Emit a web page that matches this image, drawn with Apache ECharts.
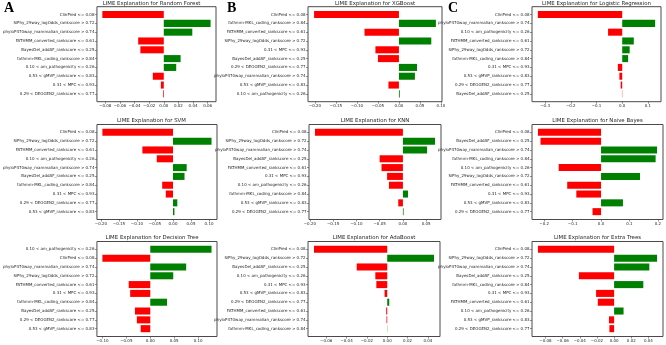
<!DOCTYPE html>
<html lang="en">
<head>
    <meta charset="UTF-8">
    <script src="https://cdn.jsdelivr.net/npm/echarts/dist/echarts.min.js"></script>
    <title>LIME</title>
    <style>
        body { margin: 0; background: #fff; }
    </style>
</head>
<body>
    <div id="chart" style="width: 666px;height:345px;"></div>
    <script>
        // feature labels (top to bottom) and LIME weights for each model
        var rfLabels = ['ClinPred <= 0.08', 'SiPhy_29way_logOdds_rankscore > 0.72', 'phyloP470way_mammalian_rankscore > 0.74', 'FATHMM_converted_rankscore <= 0.61', 'BayesDel_addAF_rankscore <= 0.25', 'fathmm-MKL_coding_rankscore > 0.84', '0.10 < am_pathogenicity <= 0.26', '0.53 < gMVP_rankscore <= 0.83', '0.31 < MPC <= 0.93', '0.29 < DEOGEN2_rankscore <= 0.77'];
        var rfValues = [-0.084, 0.064, 0.039, -0.035, -0.032, 0.023, 0.017, -0.015, -0.004, -0.001];

        var xgbLabels = ['ClinPred <= 0.08', 'fathmm-MKL_coding_rankscore > 0.84', 'FATHMM_converted_rankscore <= 0.61', 'SiPhy_29way_logOdds_rankscore > 0.72', '0.31 < MPC <= 0.93', 'BayesDel_addAF_rankscore <= 0.25', '0.29 < DEOGEN2_rankscore <= 0.77', 'phyloP470way_mammalian_rankscore > 0.74', '0.53 < gMVP_rankscore <= 0.83', '0.10 < am_pathogenicity <= 0.26'];
        var xgbValues = [-0.202, 0.088, -0.082, 0.077, -0.056, -0.050, 0.043, 0.038, -0.025, 0.002];

        var lrLabels = ['ClinPred <= 0.08', 'phyloP470way_mammalian_rankscore > 0.74', '0.10 < am_pathogenicity <= 0.26', 'FATHMM_converted_rankscore <= 0.61', 'SiPhy_29way_logOdds_rankscore > 0.72', 'fathmm-MKL_coding_rankscore > 0.84', '0.31 < MPC <= 0.93', '0.53 < gMVP_rankscore <= 0.83', '0.29 < DEOGEN2_rankscore <= 0.77', 'BayesDel_addAF_rankscore <= 0.25'];
        var lrValues = [-0.328, 0.128, -0.055, 0.045, 0.029, 0.023, -0.017, -0.011, -0.006, -0.001];

        var svmLabels = ['ClinPred <= 0.08', 'SiPhy_29way_logOdds_rankscore > 0.72', 'FATHMM_converted_rankscore <= 0.61', '0.10 < am_pathogenicity <= 0.26', 'phyloP470way_mammalian_rankscore > 0.74', 'BayesDel_addAF_rankscore <= 0.25', 'fathmm-MKL_coding_rankscore > 0.84', '0.31 < MPC <= 0.93', '0.29 < DEOGEN2_rankscore <= 0.77', '0.53 < gMVP_rankscore <= 0.83'];
        var svmValues = [-0.196, 0.107, -0.085, -0.045, 0.038, 0.032, -0.030, -0.020, 0.012, 0.004];

        var knnLabels = ['ClinPred <= 0.08', 'SiPhy_29way_logOdds_rankscore > 0.72', 'phyloP470way_mammalian_rankscore > 0.74', 'BayesDel_addAF_rankscore <= 0.25', 'FATHMM_converted_rankscore <= 0.61', '0.31 < MPC <= 0.93', '0.10 < am_pathogenicity <= 0.26', 'fathmm-MKL_coding_rankscore > 0.84', '0.53 < gMVP_rankscore <= 0.83', '0.29 < DEOGEN2_rankscore <= 0.77'];
        var knnValues = [-0.189, 0.069, 0.052, -0.050, -0.046, -0.034, -0.030, 0.011, -0.010, 0.0015];

        var nbLabels = ['ClinPred <= 0.08', 'BayesDel_addAF_rankscore <= 0.25', 'phyloP470way_mammalian_rankscore > 0.74', 'fathmm-MKL_coding_rankscore > 0.84', '0.10 < am_pathogenicity <= 0.26', 'SiPhy_29way_logOdds_rankscore > 0.72', 'FATHMM_converted_rankscore <= 0.61', '0.31 < MPC <= 0.93', '0.53 < gMVP_rankscore <= 0.83', '0.29 < DEOGEN2_rankscore <= 0.77'];
        var nbValues = [-0.222, -0.213, 0.197, 0.192, -0.149, 0.137, -0.119, -0.087, 0.077, -0.030];

        var dtLabels = ['0.10 < am_pathogenicity <= 0.26', 'ClinPred <= 0.08', 'phyloP470way_mammalian_rankscore > 0.74', 'SiPhy_29way_logOdds_rankscore > 0.72', 'FATHMM_converted_rankscore <= 0.61', '0.31 < MPC <= 0.93', 'fathmm-MKL_coding_rankscore > 0.84', 'BayesDel_addAF_rankscore <= 0.25', '0.29 < DEOGEN2_rankscore <= 0.77', '0.53 < gMVP_rankscore <= 0.83'];
        var dtValues = [0.128, -0.100, 0.075, 0.048, -0.045, -0.042, 0.035, -0.032, -0.028, -0.020];

        var adaLabels = ['ClinPred <= 0.08', 'SiPhy_29way_logOdds_rankscore > 0.72', 'BayesDel_addAF_rankscore <= 0.25', '0.10 < am_pathogenicity <= 0.26', '0.31 < MPC <= 0.93', '0.53 < gMVP_rankscore <= 0.83', '0.29 < DEOGEN2_rankscore <= 0.77', 'FATHMM_converted_rankscore <= 0.61', 'phyloP470way_mammalian_rankscore > 0.74', 'fathmm-MKL_coding_rankscore > 0.84'];
        var adaValues = [-0.072, 0.046, -0.030, -0.0117, -0.0107, -0.0026, 0.002, -0.001, -0.0007, 0.0002];

        var etLabels = ['ClinPred <= 0.08', 'SiPhy_29way_logOdds_rankscore > 0.72', 'phyloP470way_mammalian_rankscore > 0.74', 'BayesDel_addAF_rankscore <= 0.25', 'fathmm-MKL_coding_rankscore > 0.84', '0.31 < MPC <= 0.93', 'FATHMM_converted_rankscore <= 0.61', '0.10 < am_pathogenicity <= 0.26', '0.53 < gMVP_rankscore <= 0.83', '0.29 < DEOGEN2_rankscore <= 0.77'];
        var etValues = [-0.0887, 0.050, 0.041, -0.041, 0.034, -0.021, -0.019, 0.011, -0.006, -0.0055];

        // x tick labels
        var rfTicks = [-0.08, -0.06, -0.04, -0.02, 0, 0.02, 0.04, 0.06];
        var xgbTicks = [-0.20, -0.15, -0.10, -0.05, 0, 0.05, 0.10];
        var lrTicks = [-0.3, -0.2, -0.1, 0, 0.1];
        var svmTicks = [-0.20, -0.15, -0.10, -0.05, 0, 0.05, 0.10];
        var knnTicks = [-0.20, -0.15, -0.10, -0.05, 0, 0.05];
        var nbTicks = [-0.2, -0.1, 0, 0.1, 0.2];
        var dtTicks = [-0.10, -0.05, 0, 0.05, 0.10];
        var adaTicks = [-0.06, -0.04, -0.02, 0, 0.02, 0.04];
        var etTicks = [-0.08, -0.06, -0.04, -0.02, 0, 0.02, 0.04];

        var models = ['Random Forest', 'XGBoost', 'Logistic Regression', 'SVM', 'KNN', 'Naive Bayes', 'Decision Tree', 'AdaBoost', 'Extra Trees'];

        var panels = [
            { labels: rfLabels, values: rfValues, ticks: rfTicks, dec: 2, left: 87, top: 6.7, width: 129 },
            { labels: xgbLabels, values: xgbValues, ticks: xgbTicks, dec: 2, left: 308, top: 6.7, width: 134 },
            { labels: lrLabels, values: lrValues, ticks: lrTicks, dec: 1, left: 532, top: 6.7, width: 129 },
            { labels: svmLabels, values: svmValues, ticks: svmTicks, dec: 2, left: 86, top: 124.5, width: 131 },
            { labels: knnLabels, values: knnValues, ticks: knnTicks, dec: 2, left: 309, top: 124.5, width: 132 },
            { labels: nbLabels, values: nbValues, ticks: nbTicks, dec: 1, left: 532, top: 124.5, width: 131 },
            { labels: dtLabels, values: dtValues, ticks: dtTicks, dec: 2, left: 87, top: 241.5, width: 130 },
            { labels: adaLabels, values: adaValues, ticks: adaTicks, dec: 2, left: 308, top: 241.5, width: 132 },
            { labels: etLabels, values: etValues, ticks: etTicks, dec: 2, left: 532, top: 241.5, width: 131 }
        ];
        var gridHeight = 95;
        var txt = '#262626';
        var frame = '#4a4a4a';
        var font = 'DejaVu Sans';

        function fmt(v, dec) {
            var s = Math.abs(v).toFixed(dec);
            return v < 0 ? '\u2212' + s : s;
        }

        function renderBar(params, api) {
            var v = api.value(0);
            var i = api.value(1);
            var p0 = api.coord([0, i]);
            var p1 = api.coord([v, i]);
            var h = Math.abs(api.size([0, 0.8])[1]);
            return {
                type: 'rect',
                shape: { x: Math.min(p0[0], p1[0]), y: p0[1] - h / 2, width: Math.abs(p1[0] - p0[0]), height: h },
                style: { fill: v > 0 ? '#008000' : '#ff0000' }
            };
        }

        var option = { animation: false, grid: [], xAxis: [], yAxis: [], series: [], graphic: [] };

        panels.forEach(function (p, k) {
            // axis limits like matplotlib: data range incl. 0 plus 5% margins
            var lo = Math.min(0, Math.min.apply(null, p.values));
            var hi = Math.max(0, Math.max.apply(null, p.values));
            var pad = (hi - lo) * 0.05;
            var idx = p.labels.map(function (l, i) { return i; });

            option.grid.push({
                left: p.left, top: p.top, width: p.width, height: gridHeight,
                show: true, borderColor: frame, borderWidth: 1, backgroundColor: 'transparent'
            });
            option.xAxis.push({
                type: 'value', gridIndex: k, min: lo - pad, max: hi + pad, position: 'bottom',
                axisLine: { show: false, onZero: false },
                splitLine: { show: false },
                axisTick: { show: true, customValues: p.ticks, length: 2, lineStyle: { color: frame, width: 0.6 } },
                axisLabel: {
                    customValues: p.ticks, fontSize: 4, margin: 2.5, color: txt, fontFamily: font,
                    formatter: (function (d) { return function (v) { return fmt(v, d); }; })(p.dec)
                }
            });
            option.yAxis.push({
                type: 'value', gridIndex: k, min: -0.89, max: 9.89, inverse: true, position: 'left',
                axisLine: { show: false, onZero: false },
                splitLine: { show: false },
                axisTick: { show: true, customValues: idx, length: 2, lineStyle: { color: frame, width: 0.6 } },
                axisLabel: {
                    customValues: idx, fontSize: 4, margin: 2.5, color: txt, fontFamily: font,
                    formatter: (function (labels) { return function (v) { return labels[Math.round(v)]; }; })(p.labels)
                }
            });
            option.series.push({
                type: 'custom', xAxisIndex: k, yAxisIndex: k,
                renderItem: renderBar,
                encode: { x: 0, y: 1 },
                data: p.values.map(function (v, i) { return [v, i]; })
            });
            option.graphic.push({
                type: 'text', x: p.left + p.width / 2, y: p.top - 3.6,
                style: {
                    text: 'LIME Explanation for ' + models[k], fill: txt,
                    font: '5.4px "DejaVu Sans"', textAlign: 'center', textVerticalAlign: 'middle'
                }
            });
        });

        var letters = [['A', 4], ['B', 227], ['C', 448]];
        letters.forEach(function (l) {
            option.graphic.push({
                type: 'text', left: l[1], top: 1,
                style: { text: l[0], fill: '#000', font: 'bold 14px "Liberation Serif"' }
            });
        });

        var chart = echarts.init(document.getElementById('chart'));
        chart.setOption(option);
    </script>
</body>
</html>
